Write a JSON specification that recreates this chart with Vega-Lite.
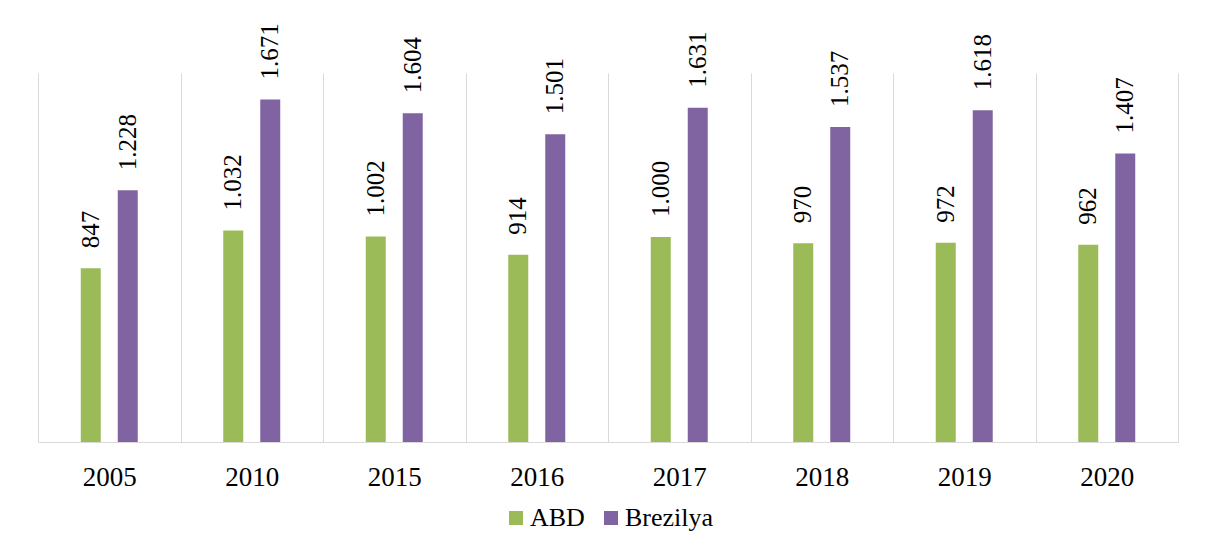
{
  "$schema": "https://vega.github.io/schema/vega-lite/v6.json",
  "width": 1140,
  "height": 369,
  "autosize": {"type": "none"},
  "padding": {"left": 38, "top": 73, "right": 29, "bottom": 108},
  "background": "white",
  "config": {
    "locale": {"number": {"decimal": ",", "thousands": ".", "grouping": [3], "currency": ["", ""]}},
    "view": {"stroke": null},
    "font": "Times New Roman, Liberation Serif, serif",
    "text": {"font": "Times New Roman, Liberation Serif, serif"}
  },
  "data": {
    "values": [
      {"year": "2005", "series": "ABD", "value": 847},
      {"year": "2005", "series": "Brezilya", "value": 1228},
      {"year": "2010", "series": "ABD", "value": 1032},
      {"year": "2010", "series": "Brezilya", "value": 1671},
      {"year": "2015", "series": "ABD", "value": 1002},
      {"year": "2015", "series": "Brezilya", "value": 1604},
      {"year": "2016", "series": "ABD", "value": 914},
      {"year": "2016", "series": "Brezilya", "value": 1501},
      {"year": "2017", "series": "ABD", "value": 1000},
      {"year": "2017", "series": "Brezilya", "value": 1631},
      {"year": "2018", "series": "ABD", "value": 970},
      {"year": "2018", "series": "Brezilya", "value": 1537},
      {"year": "2019", "series": "ABD", "value": 972},
      {"year": "2019", "series": "Brezilya", "value": 1618},
      {"year": "2020", "series": "ABD", "value": 962},
      {"year": "2020", "series": "Brezilya", "value": 1407}
    ]
  },
  "encoding": {
    "x": {
      "field": "year", "type": "nominal", "sort": null,
      "scale": {"paddingInner": 0, "paddingOuter": 0},
      "axis": {
        "title": null, "labelAngle": 0, "ticks": false, "tickBand": "extent",
        "grid": true, "gridColor": "#d9d9d9", "gridWidth": 1,
        "domainColor": "#d9d9d9", "domainWidth": 1,
        "labelFont": "Times New Roman, Liberation Serif, serif", "labelFontSize": 27, "labelColor": "#000000",
        "labelPadding": 22
      }
    },
    "xOffset": {"field": "series", "type": "nominal", "scale": {"paddingInner": 0, "paddingOuter": 0.926}},
    "y": {"field": "value", "type": "quantitative", "scale": {"domain": [0, 1800]}, "axis": null}
  },
  "layer": [
    {
      "mark": {"type": "bar", "size": 20},
      "encoding": {
        "color": {
          "field": "series", "type": "nominal",
          "scale": {"domain": ["ABD", "Brezilya"], "range": ["#9BBB59", "#8064A2"]},
          "legend": {
            "title": null, "orient": "none", "direction": "horizontal",
            "legendX": 465, "legendY": 432, "padding": 0,
            "symbolType": "square", "symbolSize": 196, "symbolStrokeWidth": 0,
            "labelFont": "Times New Roman, Liberation Serif, serif", "labelFontSize": 26, "labelColor": "#000000",
            "labelOffset": 1, "columnPadding": 13
          }
        }
      }
    },
    {
      "mark": {"type": "text", "angle": 270, "align": "left", "baseline": "middle", "dx": 20, "font": "Times New Roman, Liberation Serif, serif", "fontSize": 25, "color": "#000000"},
      "encoding": {"text": {"field": "value", "type": "quantitative", "format": ",.0f"}}
    }
  ]
}
